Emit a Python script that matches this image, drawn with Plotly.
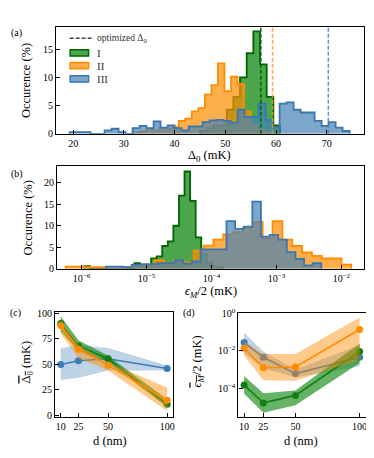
import numpy as np
import plotly.graph_objects as go

W, H = 374, 458
FONT = "Liberation Serif, serif"

# ---------------- data ----------------
# (a) distribution of Delta_0 (mK), occurrence in %
a_I_range = (45.02, 60.78)
a_I_pct = [0.5, 1.0, 1.5, 1.5, 4.3, 6.6, 10.1, 14.4, 18.3, 12.4, 6.6, 1.5]
a_II_range = (31.80, 58.85)
a_II_pct = [0.3, 0.4, 0.8, 0.6, 1.0, 0.9, 1.2, 2.3, 2.7, 4.0, 4.6, 7.0, 8.7, 12.6,
            7.6, 10.2, 8.9, 4.0, 1.5, 0.8, 0.3]
a_III_range = (19.3, 74.5)
a_III_pct = [0.3, 0.3, 0.3, 0.0, 0.0, 0.6, 0.9, 0.3, 0.0, 1.0, 1.4, 1.0, 2.2, 1.1,
             1.5, 1.0, 0.6, 1.3, 1.3, 2.1, 2.4, 2.5, 2.3, 2.0, 4.3, 3.0, 3.0, 5.4,
             2.5, 1.2, 5.4, 5.6, 4.3, 3.8, 3.8, 2.3, 1.4, 2.1, 1.1, 0.5]
opt_delta0 = [57.0, 59.3, 70.3]          # optimized Delta_0 for I, II, III

# (b) distribution of eps_M/2 (mK), log10 bin range, occurrence in %
b_I_logrange = (-5.959, -3.815)
b_I_pct = [0.6, 0, 0, 0, 0, 0, 0, 0, 0, 1.3, 0.5, 0.5, 2.4, 2.9, 5.3, 6.4, 10.0,
           17.0, 22.6, 15.8, 7.3, 3.4, 1.5, 0.5, 0.3]
b_II_logrange = (-6.2435, -1.8468)
b_II_pct = [0.5, 0.5, 0.4, 0.4, 0, 0, 0.4, 0.7, 1.0, 2.0, 1.3, 2.0, 1.5, 4.2, 5.4,
            6.8, 8.0, 8.5, 9.5, 10.9, 7.0, 11.1, 6.8, 5.3, 3.8, 3.0, 2.4, 2.4, 1.0]
b_III_logrange = (-5.628, -2.309)
b_III_pct = [0.5, 0.5, 0.4, 0.9, 1.1, 1.1, 1.3, 1.3, 2.0, 1.2, 1.7, 4.5, 4.5, 4.5,
             11.1, 9.3, 9.8, 15.6, 7.5, 7.9, 6.8, 3.9, 2.3, 0.8, 1.3]

# (c), (d) versus d (nm)
d_nm = [10, 25, 50, 100]
c_I_mean = [90.0, 68.0, 55.5, 11.0]
c_I_low = [82.0, 63.0, 52.0, 8.0]
c_I_high = [97.0, 73.5, 58.5, 16.0]
c_II_mean = [88.0, 64.7, 49.2, 14.9]
c_II_low = [80.0, 56.0, 44.0, 4.5]
c_II_high = [93.0, 69.0, 52.0, 27.5]
c_III_mean = [49.8, 53.6, 55.5, 46.0]
c_III_low = [34.6, 37.0, 44.0, 44.0]
c_III_high = [65.7, 69.0, 66.0, 49.0]

d_I_mean = [1.48e-4, 1.66e-5, 4.17e-5, 9.12e-3]
d_I_low = [5.13e-5, 5.01e-6, 1.26e-5, 2.24e-3]
d_I_high = [4.57e-4, 5.5e-5, 7.59e-5, 2.45e-2]
d_II_mean = [1.35e-2, 1.23e-3, 1.35e-3, 1.35e-1]
d_II_low = [5.62e-3, 2.69e-4, 2.51e-4, 3.31e-3]
d_II_high = [3.02e-2, 6.61e-3, 6.61e-3, 5.89e-1]
d_III_mean = [2.75e-2, 4.47e-3, 6.03e-4, 4.47e-3]
d_III_low = [7.41e-3, 1.15e-3, 3.72e-4, 1.51e-3]
d_III_high = [9.12e-2, 9.12e-3, 1.0e-3, 2.0e-2]

names = ["I", "II", "III"]

# ---------------- styles ----------------
fill_col = ["rgba(0,128,0,0.7)", "rgba(255,140,0,0.7)", "rgba(70,130,180,0.7)"]
edge_col = ["rgb(0,100,0)", "rgb(255,140,0)", "rgb(58,118,176)"]
dash_col = ["rgb(0,100,0)", "rgba(255,150,30,0.85)", "rgba(70,130,180,0.85)"]
band_col = ["rgba(0,128,0,0.6)", "rgba(255,140,0,0.45)", "rgba(70,130,180,0.35)"]
line_col = ["rgb(20,128,20)", "rgb(255,140,0)", "rgb(60,125,185)"]


def step_xy(edges, h):
    x = [edges[0]] + list(edges)
    y = [0] + list(h) + [0]
    return x, y


fig = go.Figure()

# (a)
for rng, pct, i in [(a_I_range, a_I_pct, 0), (a_II_range, a_II_pct, 1),
                    (a_III_range, a_III_pct, 2)]:
    edges = np.linspace(rng[0], rng[1], len(pct) + 1)
    x, y = step_xy(edges, pct)
    fig.add_trace(go.Scatter(x=x, y=y, mode="lines", line_shape="hv",
                             line=dict(color=edge_col[i], width=1.8),
                             fill="tozeroy", fillcolor=fill_col[i],
                             xaxis="x", yaxis="y", showlegend=False,
                             hoverinfo="skip"))
A_YMAX = 19.1
for i, v in enumerate(opt_delta0):
    fig.add_trace(go.Scatter(x=[v, v], y=[0, A_YMAX], mode="lines",
                             line=dict(color=dash_col[i], width=1.5, dash="4px,2px"),
                             xaxis="x", yaxis="y", showlegend=False))

# (b)
for rng, pct, i in [(b_I_logrange, b_I_pct, 0), (b_II_logrange, b_II_pct, 1),
                    (b_III_logrange, b_III_pct, 2)]:
    edges = 10 ** np.linspace(rng[0], rng[1], len(pct) + 1)
    x, y = step_xy(edges, pct)
    fig.add_trace(go.Scatter(x=x, y=y, mode="lines", line_shape="hv",
                             line=dict(color=edge_col[i], width=1.8),
                             fill="tozeroy", fillcolor=fill_col[i],
                             xaxis="x2", yaxis="y2", showlegend=False,
                             hoverinfo="skip"))

# (c), (d)
order = [2, 0, 1]
c_sets = [(c_I_mean, c_I_low, c_I_high), (c_II_mean, c_II_low, c_II_high),
          (c_III_mean, c_III_low, c_III_high)]
d_sets = [(d_I_mean, d_I_low, d_I_high), (d_II_mean, d_II_low, d_II_high),
          (d_III_mean, d_III_low, d_III_high)]
for sets, xa, ya in [(c_sets, "x3", "y3"), (d_sets, "x4", "y4")]:
    for i in order:
        mean, low, high = sets[i]
        fig.add_trace(go.Scatter(x=d_nm + d_nm[::-1], y=high + low[::-1],
                                 fill="toself", fillcolor=band_col[i],
                                 line=dict(width=0), mode="lines",
                                 xaxis=xa, yaxis=ya, showlegend=False,
                                 hoverinfo="skip"))
        fig.add_trace(go.Scatter(x=d_nm, y=mean, mode="lines+markers",
                                 line=dict(color=line_col[i], width=1.6),
                                 marker=dict(color=line_col[i], size=7),
                                 cliponaxis=False,
                                 xaxis=xa, yaxis=ya, showlegend=False))

# ---------------- layout ----------------
def px2x(px):
    return px / W


def px2y(py):
    return 1 - py / H


tickfont = dict(family=FONT, size=10, color="black")
axis_common = dict(showgrid=False, zeroline=False, showline=True, linecolor="black",
                   linewidth=1.2, mirror=True, ticks="inside", ticklen=4,
                   tickwidth=1, tickcolor="black", tickfont=tickfont)

fig.update_layout(
    width=W, height=H, margin=dict(l=0, r=0, t=0, b=0),
    paper_bgcolor="white", plot_bgcolor="white", showlegend=False,
    xaxis=dict(domain=[px2x(48.3), px2x(358.3)], range=[16.63, 77.41],
               tickvals=[20, 30, 40, 50, 60, 70], anchor="y", **axis_common),
    yaxis=dict(domain=[px2y(123), px2y(13.3)], range=[0, A_YMAX],
               tickvals=[0, 5, 10, 15], anchor="x", **axis_common),
    xaxis2=dict(domain=[px2x(49.3), px2x(358.3)], type="log", range=[-6.378, -1.646],
                tickvals=[1e-6, 1e-5, 1e-4, 1e-3, 1e-2],
                ticktext=["10<sup>−6</sup>", "10<sup>−5</sup>", "10<sup>−4</sup>",
                          "10<sup>−3</sup>", "10<sup>−2</sup>"],
                anchor="y2", **axis_common),
    yaxis2=dict(domain=[px2y(261.7), px2y(156)], range=[0, 23.9],
                tickvals=[0, 5, 10, 15, 20], anchor="x2", **axis_common),
    xaxis3=dict(domain=[px2x(47.3), px2x(165.7)], range=[5.2, 104.8],
                tickvals=d_nm, anchor="y3", **axis_common),
    yaxis3=dict(domain=[px2y(414), px2y(306)], range=[-1.6, 101.2],
                tickvals=[0, 25, 50, 75, 100], anchor="x3", **axis_common),
    xaxis4=dict(domain=[px2x(231.7), px2x(361)], range=[5.6, 105.8],
                tickvals=d_nm, anchor="y4", **axis_common),
    yaxis4=dict(domain=[px2y(414), px2y(306.7)], type="log", range=[-5.54, 0.03],
                tickvals=[1, 1e-2, 1e-4],
                ticktext=["10<sup>0</sup>", "10<sup>−2</sup>", "10<sup>−4</sup>"],
                anchor="x4", **axis_common),
)

anns = []


def ann(text, x, y, size=10, angle=0, xanchor="center", color="black"):
    anns.append(dict(text=text, x=px2x(x), y=px2y(y), xref="paper", yref="paper",
                     showarrow=False, textangle=angle, xanchor=xanchor,
                     yanchor="middle", font=dict(family=FONT, size=size, color=color)))


ann("(a)", 9, 19, 10)
ann("(b)", 9, 164, 10)
ann("(c)", 8, 307, 10)
ann("(d)", 182, 307, 10)
ann("Occurence (%)", 18, 68, 12.5, -90)
ann("Occurence (%)", 20, 209, 12.5, -90)
ann("Δ<sub>0</sub> (mK)", 203, 146, 12.5)
ann("<i>ϵ<sub>M</sub></i>/2 (mK)", 204, 285, 12.5)
ann("<span style='text-decoration:overline'>Δ<sub>0</sub></span> (mK)", 19, 357, 12.5, -90)
ann("<span style='text-decoration:overline'><i>ϵ<sub>M</sub></i></span>/2 (mK)",
    191, 357, 12.5, -90)
ann("d (nm)", 103, 438, 12.5)
ann("d (nm)", 295, 438, 12.5)

# legend of panel (a)
ann("optimized Δ<sub>0</sub>", 87, 25, 9.5, xanchor="left", color="#333")
for k, yy in enumerate([40, 53, 66.7]):
    ann(names[k], 87, yy, 11, xanchor="left", color="#333")

shapes = [dict(type="line", xref="paper", yref="paper", x0=px2x(62), x1=px2x(84),
               y0=px2y(25), y1=px2y(25), line=dict(color="#444", width=1.5, dash="4px,2px"))]
for k, yy in enumerate([40, 53, 66.7]):
    shapes.append(dict(type="rect", xref="paper", yref="paper", x0=px2x(62.5), x1=px2x(81),
                       y0=px2y(yy - 3.2), y1=px2y(yy + 3.2), fillcolor=fill_col[k],
                       line=dict(color=edge_col[k], width=1.5)))

fig.update_layout(annotations=anns, shapes=shapes)
fig.write_html("out.html")
